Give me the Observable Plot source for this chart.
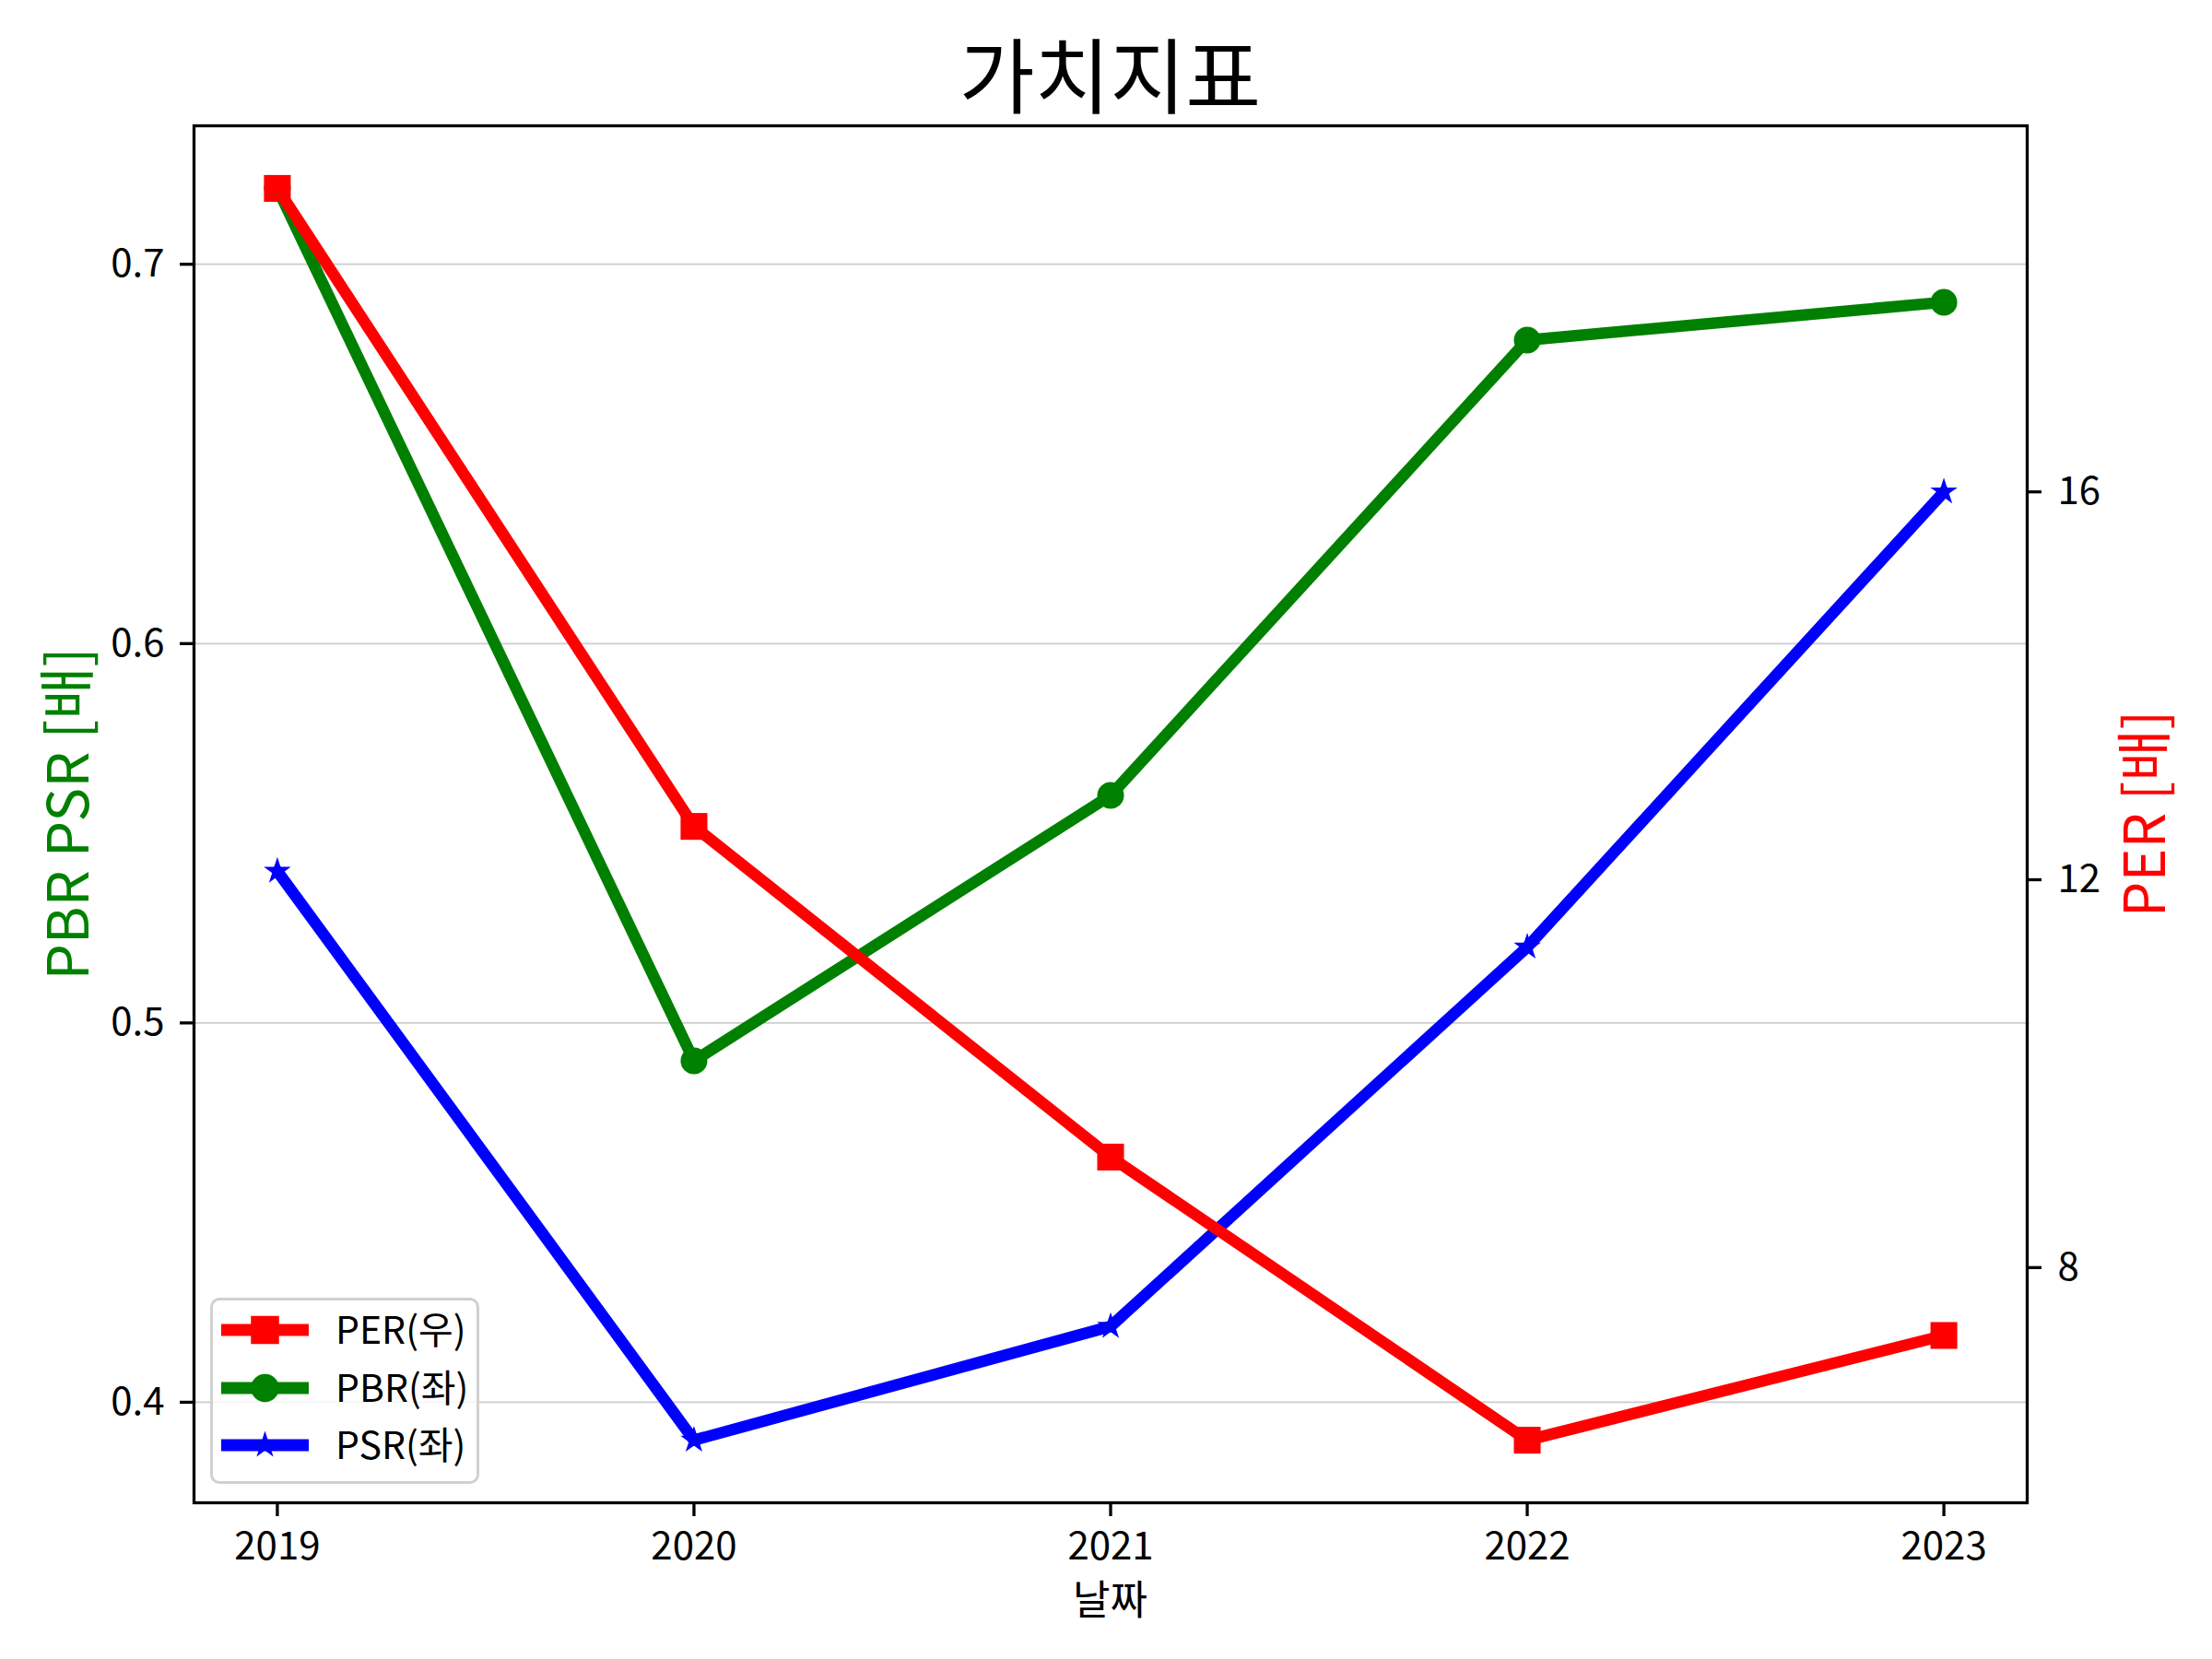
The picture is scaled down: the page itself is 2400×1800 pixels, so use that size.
<!DOCTYPE html>
<html>
<head>
<meta charset="utf-8">
<script src="https://cdn.jsdelivr.net/npm/d3@7"></script>
<script src="https://cdn.jsdelivr.net/npm/@observablehq/plot@0.6"></script>
<style>
  html, body { margin: 0; padding: 0; background: white; }
  #wrap { position: relative; width: 2400px; height: 1800px; font-family: 'Noto Sans CJK KR', 'Noto Sans', sans-serif; }
  .lbl { position: absolute; line-height: 1; white-space: nowrap; }
  .vert { writing-mode: vertical-rl; text-orientation: sideways; }
</style>
</head>
<body>
<div id="wrap"></div>
<script>
// ---- data ----
const years = [2019, 2020, 2021, 2022, 2023];
const per = [19.13, 12.55, 9.14, 6.22, 7.30];
const pbr = [0.72, 0.49, 0.56, 0.68, 0.69];
const psr = [0.54, 0.39, 0.42, 0.52, 0.64];
const leftTicks = [0.4, 0.5, 0.6, 0.7];
const rightTicks = [8, 12, 16];
const xTicks = [2019, 2020, 2021, 2022, 2023];
const seriesNames = ["PER(우)", "PBR(좌)", "PSR(좌)"];
const title = "가치지표";
const xLabel = "날짜";
const yLabel = "PBR PSR [배]";
const y2Label = "PER [배]";

function padDomain(arr) {
  const lo = d3.min(arr), hi = d3.max(arr), m = (hi - lo) * 0.05;
  return [lo - m, hi + m];
}
const leftDomain = padDomain(pbr.concat(psr));
const rightDomain = padDomain(per);
const xDomain = padDomain(years);
const toLeft = d3.scaleLinear().domain(rightDomain).range(leftDomain);

const pbrData = years.map((y, i) => ({year: y, value: pbr[i]}));
const psrData = years.map((y, i) => ({year: y, value: psr[i]}));
const perData = years.map((y, i) => ({year: y, value: toLeft(per[i])}));

const W = 2400, H = 1800;
const mL = 210, mR = 201, mT = 136, mB = 170;

const axisStyle = {tickSize: 15, strokeWidth: 3.3, fontSize: 42, label: null};

const chart = Plot.plot({
  width: W, height: H,
  marginLeft: mL, marginRight: mR, marginTop: mT, marginBottom: mB,
  style: {fontFamily: "'Noto Sans CJK KR', 'Noto Sans', sans-serif", fontSize: "42px", background: "white", color: "black"},
  x: {type: "linear", domain: xDomain, label: null},
  y: {type: "linear", domain: leftDomain, label: null},
  marks: [
    Plot.ruleY(leftTicks, {stroke: "#cccccc", strokeWidth: 1.8}),
    Plot.line(pbrData, {x: "year", y: "value", stroke: "green", strokeWidth: 12.5}),
    Plot.dot(pbrData, {x: "year", y: "value", r: 14.5, fill: "green", symbol: "circle"}),
    Plot.line(psrData, {x: "year", y: "value", stroke: "blue", strokeWidth: 12.5}),
    Plot.dot(psrData, {x: "year", y: "value", r: 7.8, fill: "blue", stroke: "blue", strokeWidth: 1.5, symbol: "star"}),
    Plot.line(perData, {x: "year", y: "value", stroke: "red", strokeWidth: 12.5}),
    Plot.dot(perData, {x: "year", y: "value", r: 16.4, fill: "red", symbol: "square"}),
    Plot.frame({stroke: "black", strokeWidth: 3.3}),
    Plot.axisY(leftTicks, {...axisStyle, anchor: "left", tickPadding: 17, tickFormat: d3.format(".1f")}),
    Plot.axisY(rightTicks.map(toLeft), {...axisStyle, anchor: "right", tickPadding: 18, tickFormat: d => String(Math.round(toLeft.invert(d)))}),
    Plot.axisX(xTicks, {...axisStyle, anchor: "bottom", tickPadding: 17, tickFormat: d3.format("d")})
  ]
});

const wrap = document.getElementById("wrap");
wrap.appendChild(chart);
chart.style.position = "absolute";
chart.style.left = "0px";
chart.style.top = "0px";

function addLabel(text, opts, cls) {
  const d = document.createElement("div");
  d.className = "lbl" + (cls ? " " + cls : "");
  d.textContent = text;
  Object.assign(d.style, opts);
  wrap.appendChild(d);
  return d;
}
const cx = (mL + (W - mR)) / 2;
const cy = (mT + (H - mB)) / 2;
addLabel(title, {left: cx + "px", top: "33px", fontSize: "89px", transform: "translateX(-50%)", color: "black"});
addLabel(xLabel, {left: cx + "px", top: "1711px", fontSize: "44px", transform: "translateX(-50%)", color: "black"});
addLabel(yLabel, {left: "69px", top: cy + "px", fontSize: "62px", transform: "translate(-50%,-50%) rotate(180deg)", color: "green"}, "vert");
addLabel(y2Label, {left: "2322px", top: cy + "px", fontSize: "61px", transform: "translate(-50%,-50%) rotate(180deg)", color: "red"}, "vert");

// ---- legend ----
const legend = document.createElement("div");
Object.assign(legend.style, {
  position: "absolute", left: "228px", top: "1408px", width: "286px", height: "196px",
  border: "3px solid #d0d0d0", borderRadius: "10px", background: "rgba(255,255,255,0.8)"
});
wrap.appendChild(legend);
const lsvg = d3.select(legend).append("svg").attr("width", 286).attr("height", 196)
  .style("position", "absolute").style("left", "0px").style("top", "0px").style("overflow", "visible");
const colors = ["red", "green", "blue"];
const rowY = [32, 95, 157];
seriesNames.forEach((name, i) => {
  const g = lsvg.append("g").attr("transform", `translate(0,${rowY[i]})`);
  g.append("line").attr("x1", 9).attr("x2", 104).attr("stroke", colors[i]).attr("stroke-width", 13);
  let sym, size;
  if (i === 0) { sym = d3.symbolSquare; size = 29 * 29; }
  else if (i === 1) { sym = d3.symbolCircle; size = Math.PI * 14.5 * 14.5; }
  else { sym = d3.symbolStar; size = Math.PI * 7.8 * 7.8; }
  g.append("path").attr("transform", "translate(56.5,0)").attr("d", d3.symbol(sym, size)()).attr("fill", colors[i]).attr("stroke", colors[i]).attr("stroke-width", 1.5);
  g.append("text").attr("x", 133).attr("y", 0).attr("dy", "0.36em").attr("font-size", 41)
    .attr("font-family", "'Noto Sans CJK KR', 'Noto Sans', sans-serif").attr("fill", "black").text(name);
});
</script>
</body>
</html>
